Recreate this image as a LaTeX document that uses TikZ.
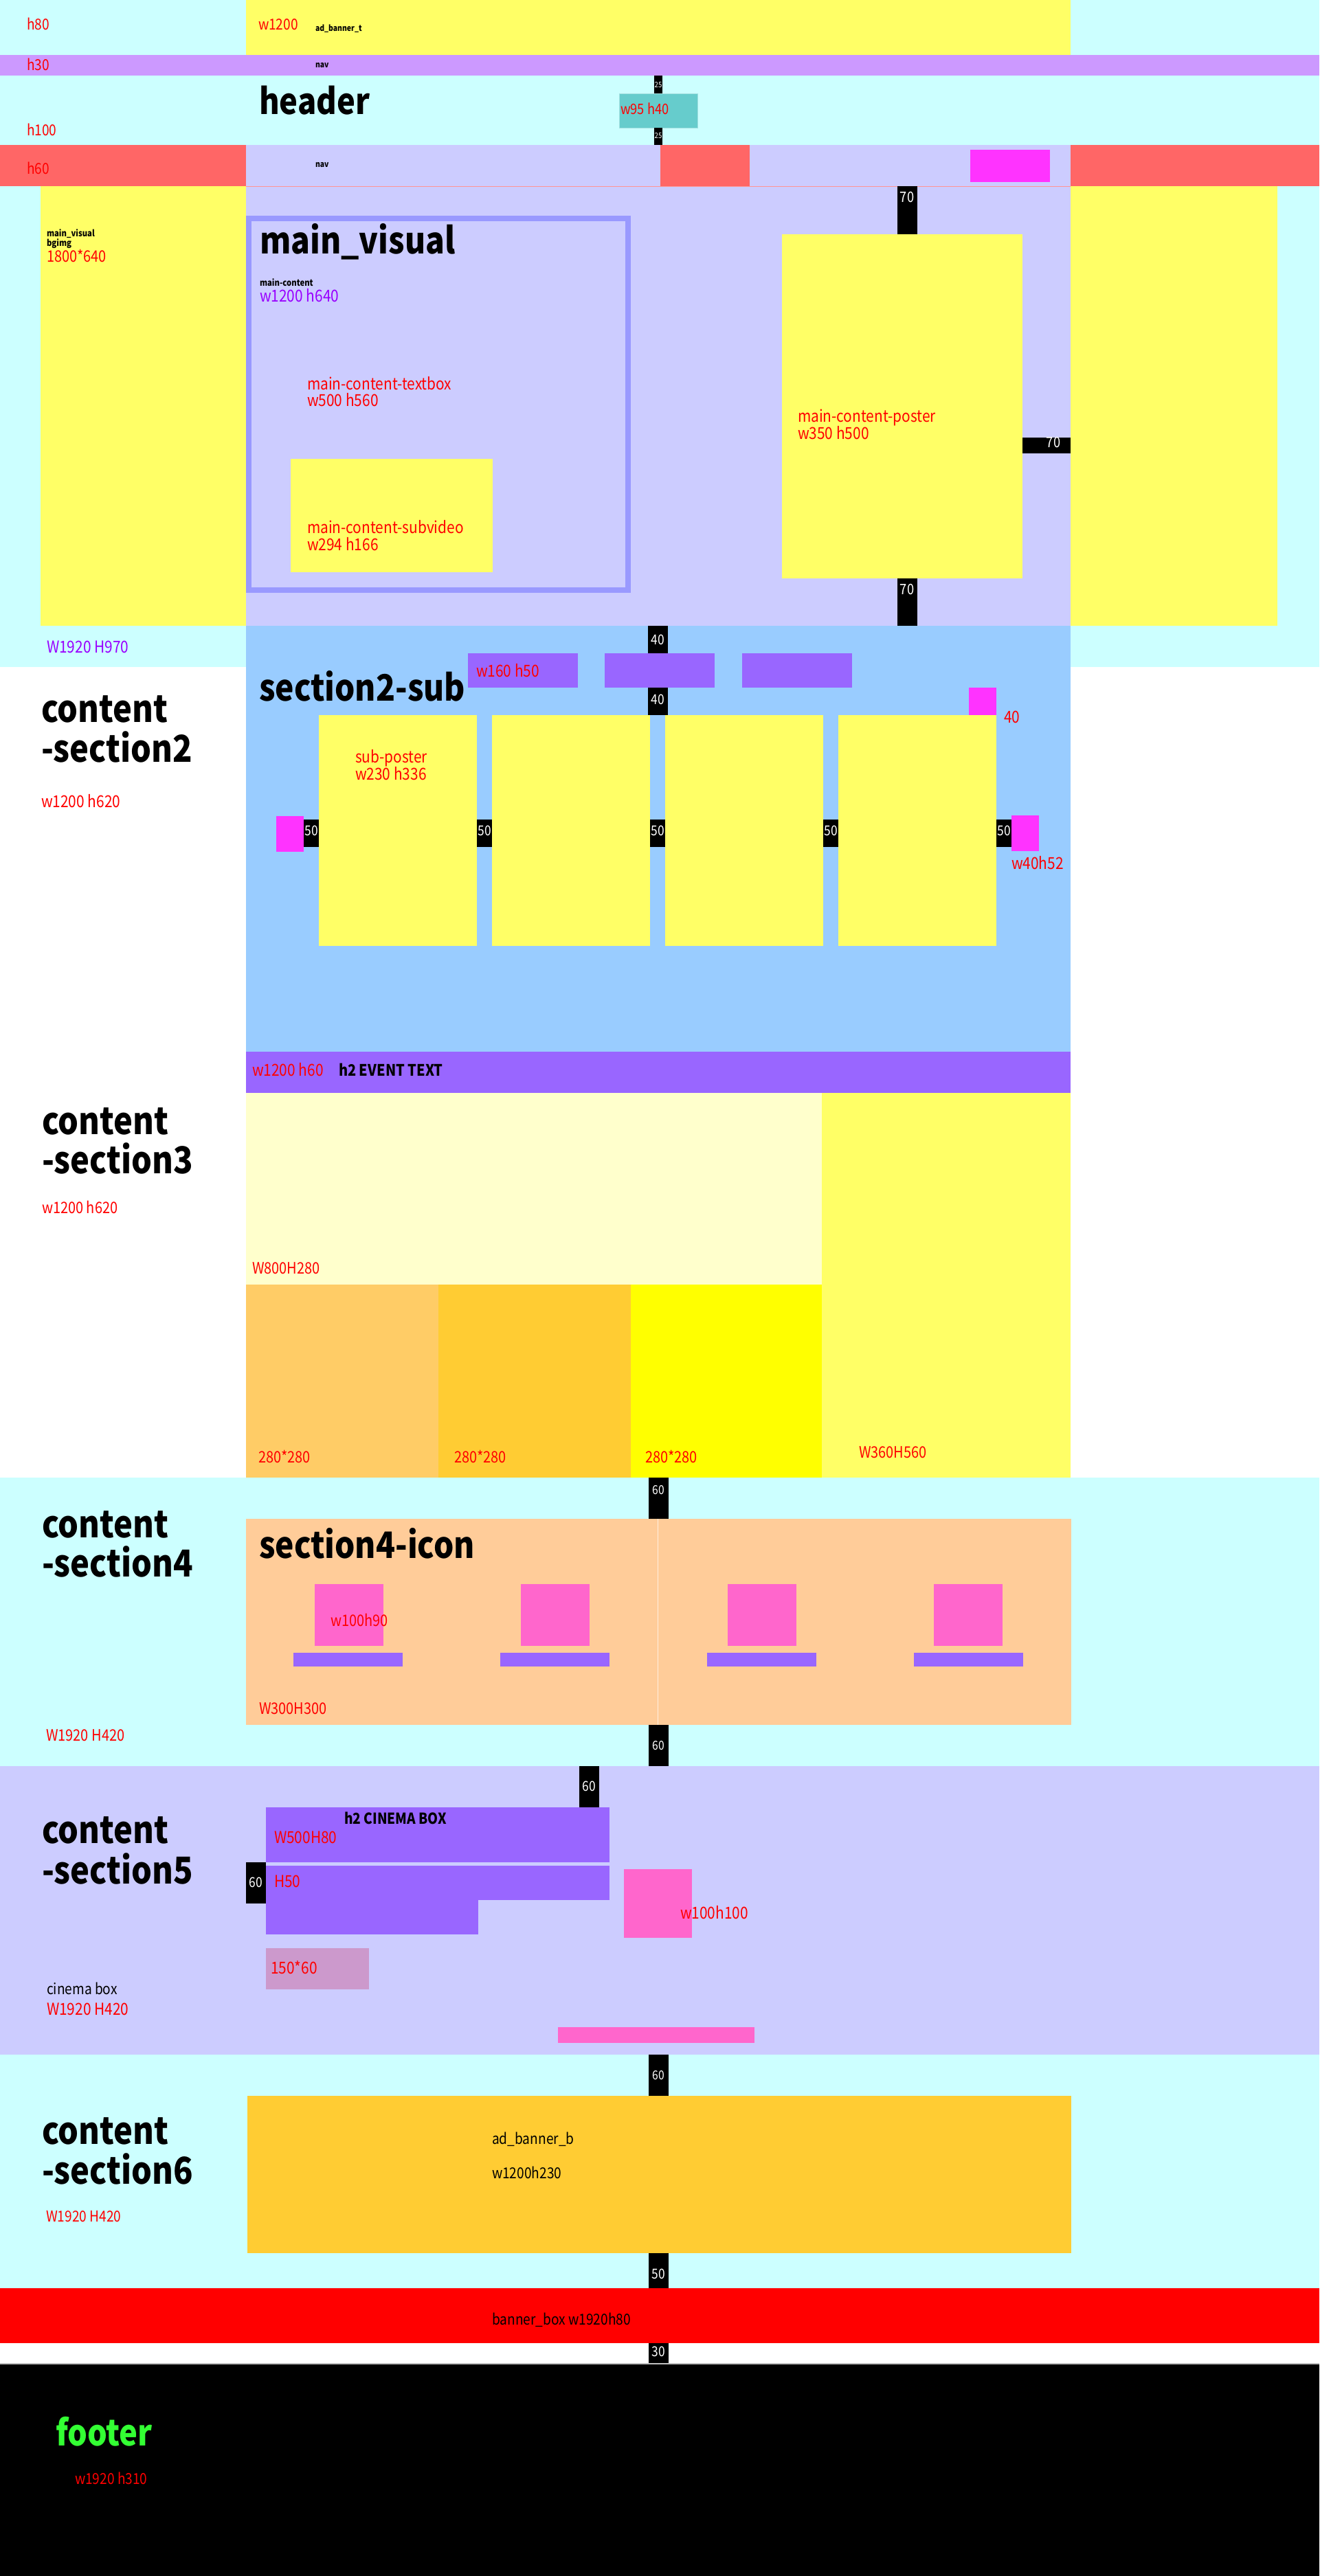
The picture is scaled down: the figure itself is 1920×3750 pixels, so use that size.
\documentclass[tikz,border=0pt]{standalone}
\usepackage{fontspec}
\setmainfont{Noto Sans CJK JP}[FakeStretch=0.87]
\definecolor{cyanbg}{HTML}{CCFFFF}
\definecolor{ylw}{HTML}{FFFF66}
\definecolor{navp}{HTML}{CC99FF}
\definecolor{tealb}{HTML}{66CCCC}
\definecolor{reds}{HTML}{FF6666}
\definecolor{lav}{HTML}{CCCCFF}
\definecolor{mag}{HTML}{FF33FF}
\definecolor{frm}{HTML}{9999FF}
\definecolor{blu}{HTML}{99CCFF}
\definecolor{purp}{HTML}{9966FF}
\definecolor{lylw}{HTML}{FFFFCC}
\definecolor{or1}{HTML}{FFCC66}
\definecolor{or2}{HTML}{FFCC33}
\definecolor{pylw}{HTML}{FFFF00}
\definecolor{peach}{HTML}{FFCC99}
\definecolor{pnk}{HTML}{FF66CC}
\definecolor{mauve}{HTML}{CC99CC}
\definecolor{rred}{HTML}{FF0000}
\definecolor{grn}{HTML}{33FF33}
\definecolor{lblp}{HTML}{9900FF}
\newcommand\fsz[1]{\fontsize{#1}{#1}\selectfont}
\tikzset{
  lbl/.style={inner sep=0pt, outer sep=0pt, anchor=west, text height=0.62em, text depth=0pt, yshift=-3pt},
  redl/.style={lbl, text=rred, font=\fsz{23}},
  purl/.style={lbl, text=lblp, font=\fsz{24}},
  smallb/.style={lbl, font=\fsz{13}\bfseries},
  title/.style={inner sep=0pt, outer sep=0pt, anchor=base west, font=\fsz{53}\bfseries},
  sectitle/.style={inner sep=0pt, outer sep=0pt, anchor=base west, font=\fsz{54}\bfseries},
  barl/.style={inner sep=0pt, outer sep=0pt, anchor=center, text height=0.62em, text depth=0pt, text=white, font=\fsz{19}},
  blk/.style={fill=black},
}
\begin{document}
\begin{tikzpicture}[x=1pt,y=-1pt]
\useasboundingbox (0,0) rectangle (1920,3750);
\fill[white] (0,0) rectangle (1920,3750);
% ---------- top / header / main visual background ----------
\fill[cyanbg] (0,0) rectangle (1920,971);
\fill[ylw] (358,0) rectangle (1558,80);
\fill[navp] (0,80) rectangle (1920,110);
\fill[blk] (952,110) rectangle (964,136);
\fill[tealb, draw=tealb!60!white, line width=1pt] (901,136) rectangle (1015,186);
\fill[blk] (952,186) rectangle (964,211);
\fill[reds] (0,211) rectangle (1920,271);
\fill[lav] (358,211) rectangle (961,271);
\fill[lav] (1091,211) rectangle (1558,271);
\fill[mag] (1412,218) rectangle (1528,265);
% main visual
\fill[ylw] (59,271) rectangle (358,911);
\fill[lav] (358,271) rectangle (1558,911);
\fill[ylw] (1558,271) rectangle (1859,911);
\draw[reds!70!white, line width=1pt] (358,271) -- (1558,271);
\draw[frm, line width=8pt] (362,318) rectangle (914,859);
\fill[ylw] (423,668) rectangle (717,833);
\fill[ylw] (1138,341) rectangle (1488,842);
\fill[blk] (1306,271) rectangle (1335,341);
\fill[blk] (1488,637) rectangle (1558,660);
\fill[blk] (1306,842) rectangle (1335,911);
% ---------- section 2 ----------
\fill[blu] (358,911) rectangle (1558,1531);
\fill[blk] (943,911) rectangle (972,951);
\fill[purp] (681,951) rectangle (841,1001);
\fill[purp] (880,951) rectangle (1040,1001);
\fill[purp] (1080,951) rectangle (1240,1001);
\fill[blk] (943,1001) rectangle (972,1041);
\fill[mag] (1410,1001) rectangle (1450,1041);
\foreach \px in {464,716,968,1220} {\fill[ylw] (\px,1041) rectangle ++(230,336);}
\foreach \bx in {442,694,946,1198,1450} {\fill[blk] (\bx,1193) rectangle ++(22,40);}
\fill[mag] (402,1188) rectangle (442,1240);
\fill[mag] (1472,1187) rectangle (1512,1239);
\fill[purp] (358,1531) rectangle (1558,1591);
% ---------- section 3 ----------
\fill[lylw] (358,1591) rectangle (1196,1870);
\fill[ylw] (1196,1591) rectangle (1558,2151);
\fill[or1] (358,1870) rectangle (638,2151);
\fill[or2] (638,1870) rectangle (918,2151);
\fill[pylw] (918,1870) rectangle (1196,2151);
% ---------- section 4 ----------
\fill[cyanbg] (0,2151) rectangle (1920,2571);
\fill[blk] (944,2151) rectangle (973,2211);
\fill[peach] (358,2211) rectangle (1559,2511);
\draw[white, opacity=0.7, line width=1pt] (957.5,2211) -- (957.5,2511);
\foreach \ix in {458,758,1059,1359} {\fill[pnk] (\ix,2306) rectangle ++(100,90);}
\foreach \ix in {427,728,1029,1330} {\fill[purp] (\ix,2406) rectangle ++(159,20);}
\fill[blk] (944,2511) rectangle (973,2571);
% ---------- section 5 ----------
\fill[lav] (0,2571) rectangle (1920,2991);
\fill[blk] (843,2571) rectangle (872,2631);
\fill[purp] (387,2631) rectangle (887,2711);
\fill[purp] (387,2716) rectangle (887,2766);
\fill[purp] (387,2766) rectangle (696,2816);
\fill[blk] (358,2711) rectangle (387,2771);
\fill[pnk] (908,2721) rectangle (1007,2821);
\fill[mauve] (387,2836) rectangle (537,2896);
\fill[pnk] (812,2951) rectangle (1098,2974);
% ---------- section 6 ----------
\fill[cyanbg] (0,2991) rectangle (1920,3331);
\fill[blk] (944,2991) rectangle (973,3051);
\fill[or2] (360,3051) rectangle (1559,3280);
\fill[blk] (944,3280) rectangle (973,3331);
\fill[rred] (0,3331) rectangle (1920,3411);
\fill[blk] (944,3411) rectangle (973,3441);
\draw[black!25, line width=1.5pt] (0,3441) -- (1920,3441);
\fill[black] (0,3442) rectangle (1920,3750);
% ================= TEXT =================
% header area
\node[redl, font=\fsz{22}] (th80) at (39,37) {h80};
\node[redl, font=\fsz{22}] (tw1200) at (376,37) {w1200};
\node[smallb, font=\fsz{12}\bfseries] (tadt) at (459,39) {ad\_banner\_t};
\node[redl, font=\fsz{22}] (th30) at (39,96) {h30};
\node[smallb, font=\fsz{12}\bfseries] (tnav1) at (459,92) {nav};
\node[title, font=\fsz{52}\bfseries] (theader) at (377,166) {header};
\node[barl, font=\fsz{11}] (t25a) at (958,124) {25};
\node[barl, font=\fsz{11}] (t25b) at (958,198) {25};
\node[redl, font=\fsz{21}] (tw95) at (903,160) {w95 h40};
\node[redl, font=\fsz{22}] (th100) at (39,191) {h100};
\node[redl, font=\fsz{22}] (th60) at (39,247) {h60};
\node[smallb, font=\fsz{12}\bfseries] (tnav2) at (459,237) {nav};
% main visual
\node[smallb] (tmvs) at (68,338) {main\_visual};
\node[smallb] (tbg) at (68,352) {bgimg};
\node[redl] (t1800) at (68,375) {1800*640};
\node[title] (tmv) at (378,369) {main\_visual};
\node[smallb] (tmc) at (378,410) {main-content};
\node[purl] (tmcs) at (378,433) {w1200 h640};
\node[redl, font=\fsz{24}] (ttb1) at (447,561) {main-content-textbox};
\node[redl, font=\fsz{24}] (ttb2) at (447,585) {w500 h560};
\node[redl, font=\fsz{24}] (tsv1) at (447,770) {main-content-subvideo};
\node[redl, font=\fsz{24}] (tsv2) at (447,795) {w294 h166};
\node[redl, font=\fsz{24}] (tps1) at (1161,608) {main-content-poster};
\node[redl, font=\fsz{24}] (tps2) at (1161,633) {w350 h500};
\node[barl, font=\fsz{21}] (t70a) at (1320,291) {70};
\node[barl, font=\fsz{21}] (t70b) at (1533,648) {70};
\node[barl, font=\fsz{21}] (t70c) at (1320,862) {70};
\node[purl] (tw1920) at (68,944) {W1920 H970};
% section 2
\node[sectitle] (tc2a) at (60,1051) {content};
\node[sectitle] (tc2b) at (60,1109) {-section2};
\node[redl, font=\fsz{24}] (tc2s) at (60,1169) {w1200 h620};
\node[title] (ts2sub) at (377,1020) {section2-sub};
\node[redl, font=\fsz{24}] (tw160) at (693,979) {w160 h50};
\node[barl, font=\fsz{20}] (t40a) at (957.5,935) {40};
\node[barl, font=\fsz{20}] (t40b) at (957.5,1022) {40};
\node[redl, font=\fsz{24}] (t40r) at (1461,1046) {40};
\node[redl, font=\fsz{24}] (tsp1) at (517,1104) {sub-poster};
\node[redl, font=\fsz{24}] (tsp2) at (517,1129) {w230 h336};
\foreach \bx/\nm in {453/a,705/b,957/c,1209/d,1461/e} {\node[barl, font=\fsz{20}] (t50\nm) at (\bx,1213) {50};}
\node[redl, font=\fsz{24}] (tw40) at (1472,1259) {w40h52};
\node[redl, font=\fsz{24}] (tev1) at (367,1560) {w1200 h60};
\node[lbl, font=\fsz{23}\bfseries] (tev2) at (493,1560) {h2 EVENT TEXT};
% section 3
\node[sectitle] (tc3a) at (61,1651) {content};
\node[sectitle] (tc3b) at (61,1708) {-section3};
\node[redl] (tc3s) at (61,1760) {w1200 h620};
\node[redl] (tw800) at (367,1848) {W800H280};
\node[redl] (t280a) at (376,2123) {280*280};
\node[redl] (t280b) at (661,2123) {280*280};
\node[redl] (t280c) at (939,2123) {280*280};
\node[redl] (tw360) at (1250,2116) {W360H560};
% section 4
\node[sectitle] (tc4a) at (61,2238) {content};
\node[sectitle] (tc4b) at (61,2295) {-section4};
\node[title] (ts4i) at (377,2268) {section4-icon};
\node[redl] (tw100) at (481,2361) {w100h90};
\node[redl] (tw300) at (377,2489) {W300H300};
\node[redl] (tc4s) at (67,2528) {W1920 H420};
\node[barl, font=\fsz{18}] (t60a) at (958.5,2172) {60};
\node[barl, font=\fsz{18}] (t60b) at (958.5,2544) {60};
% section 5
\node[sectitle] (tc5a) at (61,2683) {content};
\node[sectitle] (tc5b) at (61,2742) {-section5};
\node[lbl, font=\fsz{22}\bfseries] (tcin) at (501,2649) {h2 CINEMA BOX};
\node[redl, font=\fsz{24}] (tw500) at (399,2677) {W500H80};
\node[redl, font=\fsz{24}] (th50) at (399,2741) {H50};
\node[barl, font=\fsz{20}] (t60c) at (857.5,2604) {60};
\node[barl, font=\fsz{20}] (t60d) at (372.5,2744) {60};
\node[redl, font=\fsz{24}] (tw100h) at (990,2787) {w100h100};
\node[redl, font=\fsz{24}] (t150) at (394,2867) {150*60};
\node[lbl, font=\fsz{22}] (tcbox) at (68,2897) {cinema box};
\node[redl, font=\fsz{24}] (tc5s) at (68,2927) {W1920 H420};
% section 6
\node[sectitle] (tc6a) at (61,3121) {content};
\node[sectitle] (tc6b) at (61,3179) {-section6};
\node[redl, font=\fsz{22}] (tc6s) at (67,3228) {W1920 H420};
\node[lbl, font=\fsz{22}] (tadb1) at (716,3115) {ad\_banner\_b};
\node[lbl, font=\fsz{22}] (tadb2) at (716,3165) {w1200h230};
\node[barl, font=\fsz{18}] (t60e) at (958.5,3024) {60};
\node[barl, font=\fsz{20}] (t50f) at (958.5,3314) {50};
\node[lbl, font=\fsz{22}] (tbb) at (716,3378) {banner\_box w1920h80};
\node[barl, font=\fsz{20}] (t30) at (958.5,3427) {30};
\node[title, text=grn, font=\fsz{52}\bfseries] (tfoot) at (81,3560) {footer};
\node[redl, font=\fsz{22}] (tfs) at (109,3610) {w1920 h310};
\end{tikzpicture}
\end{document}
